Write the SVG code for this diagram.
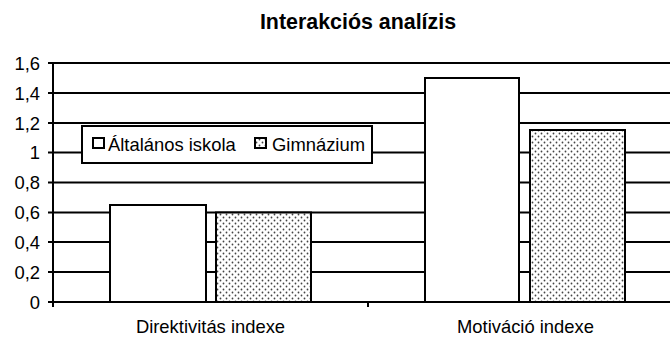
<svg xmlns="http://www.w3.org/2000/svg" width="670" height="338" viewBox="0 0 670 338">
<defs>
<pattern id="dots" width="6" height="6" patternUnits="userSpaceOnUse">
<rect width="6" height="6" fill="#fff"/>
<circle cx="1.5" cy="1.5" r="0.9" fill="#444"/>
<circle cx="4.5" cy="4.5" r="0.9" fill="#444"/>
</pattern>
</defs>
<style>
text{font-family:"Liberation Sans",Arial,sans-serif;fill:#000}
.lab{font-size:18.4px}
.ttl{font-size:21.4px;font-weight:bold}
.grid{stroke:#000;stroke-width:2}
.bar{stroke:#000;stroke-width:2}
</style>
<rect width="670" height="338" fill="#fff"/>
<text class="ttl" x="358" y="29" text-anchor="middle">Interakciós analízis</text>
<g id="axes">
<line class="grid" x1="48" y1="63" x2="670" y2="63"/>
<line class="grid" x1="48" y1="93" x2="670" y2="93"/>
<line class="grid" x1="48" y1="123" x2="670" y2="123"/>
<line class="grid" x1="48" y1="152.5" x2="670" y2="152.5"/>
<line class="grid" x1="48" y1="182.5" x2="670" y2="182.5"/>
<line class="grid" x1="48" y1="212.5" x2="670" y2="212.5"/>
<line class="grid" x1="48" y1="242" x2="670" y2="242"/>
<line class="grid" x1="48" y1="272" x2="670" y2="272"/>
<line class="grid" x1="48" y1="302" x2="670" y2="302"/>
<line class="grid" x1="53" y1="62" x2="53" y2="307"/>
<line class="grid" x1="368" y1="302" x2="368" y2="307"/>
</g>
<g id="ylabels" class="lab" text-anchor="end">
<text x="40" y="69.5">1,6</text>
<text x="40" y="99.5">1,4</text>
<text x="40" y="129.5">1,2</text>
<text x="40" y="159">1</text>
<text x="40" y="189">0,8</text>
<text x="40" y="219">0,6</text>
<text x="40" y="248.5">0,4</text>
<text x="40" y="278.5">0,2</text>
<text x="40" y="308.5">0</text>
</g>
<g id="bars">
<rect class="bar" x="110" y="205" width="96" height="97" fill="#fff"/>
<rect class="bar" x="216" y="212.5" width="95" height="89.5" fill="url(#dots)"/>
<rect class="bar" x="425" y="78" width="94" height="224" fill="#fff"/>
<rect class="bar" x="530" y="130" width="95" height="172" fill="url(#dots)"/>
</g>
<g id="xlabels" class="lab" text-anchor="middle">
<text x="210.5" y="333">Direktivitás indexe</text>
<text x="525.5" y="333">Motiváció indexe</text>
</g>
<g id="legend">
<rect x="82" y="126" width="290" height="37" fill="#fff" stroke="#000" stroke-width="2"/>
<rect x="93" y="138" width="11" height="10" fill="#fff" stroke="#000" stroke-width="2"/>
<text class="lab" x="108" y="151">Általános iskola</text>
<rect x="255" y="138" width="11" height="10" fill="url(#dots)" stroke="#000" stroke-width="2"/>
<text class="lab" x="272" y="151">Gimnázium</text>
</g>
</svg>
